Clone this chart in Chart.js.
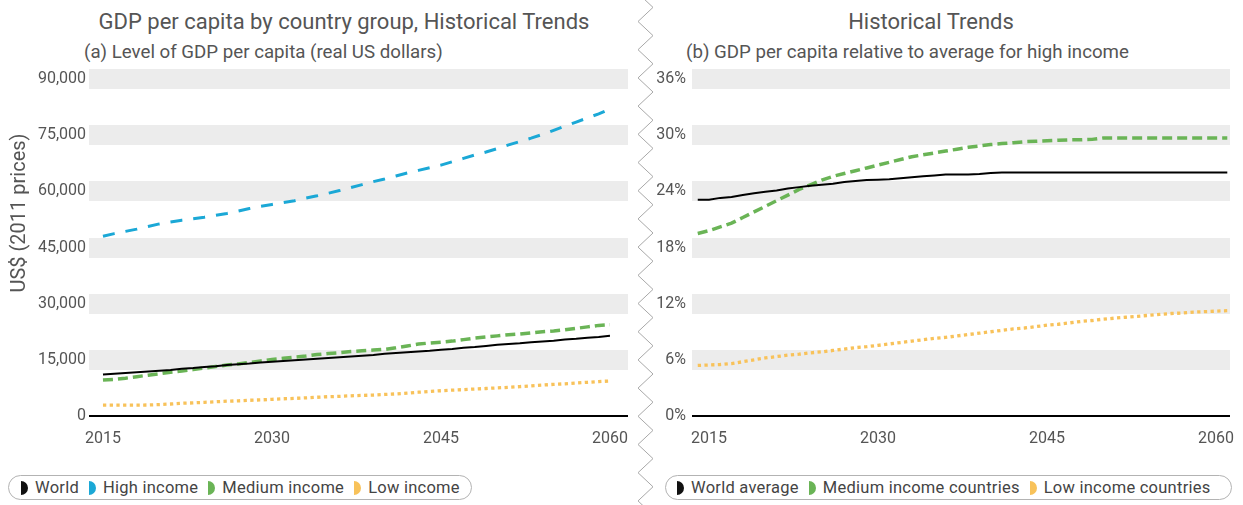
<!DOCTYPE html>
<html>
<head>
<meta charset="utf-8">
<script src="https://cdn.jsdelivr.net/npm/chart.js@4"></script>
<style>
  body { margin: 0; background: #fff; font-family: Roboto, sans-serif; color: #555; }
  #page { position: relative; width: 1243px; height: 505px; overflow: hidden; }
  .box { position: absolute; }
  .title { position: absolute; font-size: 22px; line-height: 24px; color: #555; white-space: nowrap; }
  .sub { position: absolute; font-size: 18.7px; line-height: 20px; color: #555; white-space: nowrap; }
  .ytitle { position: absolute; font-size: 20px; line-height: 22px; color: #555; white-space: nowrap;
            transform: translate(-50%, -50%) rotate(-90deg); }
  .legend { position: absolute; height: 25px; border: 1px solid #b3b3b3; border-radius: 14px; white-space: nowrap;
            display: flex; align-items: center; box-sizing: border-box; font-size: 16.5px; color: #444; }
  .legend span.key { flex: none; display: inline-block; width: 7px; height: 14px; border-radius: 0 7px 7px 0; margin: 0 7px 0 0; }
  .legend span.lab { flex: none; margin-right: 10px; letter-spacing: 0.25px; }
  svg.zig { position: absolute; left: 0; top: 0; }
</style>
</head>
<body>
<div id="page">
  <div class="title" style="left:0;width:688px;text-align:center;top:10px;">GDP per capita by country group, Historical Trends</div>
  <div class="sub" style="left:84px;top:42px;">(a) Level of GDP per capita (real US dollars)</div>
  <div class="title" style="left:640px;width:582px;text-align:center;top:10px;">Historical Trends</div>
  <div class="sub" style="left:686px;top:42px;">(b) GDP per capita relative to average for high income</div>

  <div class="box" style="left:0;top:0;width:640px;height:460px;"><canvas id="levelChart"></canvas></div>
  <div class="box" style="left:640px;top:0;width:603px;height:460px;"><canvas id="relativeChart"></canvas></div>
  <div class="ytitle" style="left:18px;top:213px;">US$ (2011 prices)</div>

  <div class="legend" style="left:8px;top:475px;width:464px;padding-left:12px;">
    <span class="key" style="background:#111"></span><span class="lab">World</span>
    <span class="key" style="background:#1ba8d6"></span><span class="lab">High income</span>
    <span class="key" style="background:#6ab456"></span><span class="lab">Medium income</span>
    <span class="key" style="background:#f8c25a"></span><span class="lab">Low income</span>
  </div>
  <div class="legend" style="left:665px;top:475px;width:567px;padding-left:11px;">
    <span class="key" style="background:#111"></span><span class="lab">World average</span>
    <span class="key" style="background:#6ab456"></span><span class="lab">Medium income countries</span>
    <span class="key" style="background:#f8c25a"></span><span class="lab">Low income countries</span>
  </div>

  <svg class="zig" width="1243" height="505"><polyline id="zigLine" fill="none" stroke="#a8a8a8" stroke-width="1"/></svg>
</div>

<script>
// years shown in panel (a) and panel (b)
const yearsLevel = [
  2015, 2016, 2017, 2018, 2019, 2020, 2021, 2022, 2023, 2024,
  2025, 2026, 2027, 2028, 2029, 2030, 2031, 2032, 2033, 2034,
  2035, 2036, 2037, 2038, 2039, 2040, 2041, 2042, 2043, 2044,
  2045, 2046, 2047, 2048, 2049, 2050, 2051, 2052, 2053, 2054,
  2055, 2056, 2057, 2058, 2059, 2060
];
const yearsRelative = [
  2014, 2015, 2016, 2017, 2018, 2019, 2020, 2021, 2022, 2023,
  2024, 2025, 2026, 2027, 2028, 2029, 2030, 2031, 2032, 2033,
  2034, 2035, 2036, 2037, 2038, 2039, 2040, 2041, 2042, 2043,
  2044, 2045, 2046, 2047, 2048, 2049, 2050, 2051, 2052, 2053,
  2054, 2055, 2056, 2057, 2058, 2059, 2060, 2061
];
const xTickYears = [2015, 2030, 2045, 2060];

// (a) GDP per capita, US$ 2011 prices
const worldLevel = [
  11100, 11300, 11500, 11700, 11900, 12100, 12300, 12600, 12800, 13100,
  13300, 13600, 13800, 14000, 14300, 14500, 14700, 14900, 15100, 15300,
  15500, 15700, 15900, 16100, 16300, 16600, 16800, 17000, 17200, 17400,
  17700, 17900, 18200, 18400, 18700, 19000, 19200, 19400, 19700, 19900,
  20100, 20400, 20600, 20900, 21100, 21400
];
const highLevel = [
  48000, 48700, 49300, 49900, 50600, 51300, 51800, 52300, 52700, 53100,
  53600, 54100, 54700, 55400, 56000, 56500, 57000, 57500, 58200, 58800,
  59500, 60200, 61000, 61800, 62600, 63300, 64100, 64900, 65600, 66300,
  67000, 67900, 68800, 69700, 70500, 71400, 72400, 73300, 74200, 75200,
  76300, 77400, 78500, 79600, 80700, 82000
];
const mediumLevel = [
  9600, 9800, 10100, 10500, 10900, 11300, 11700, 12000, 12400, 12800,
  13200, 13600, 13900, 14300, 14700, 15100, 15400, 15700, 16000, 16400,
  16700, 16900, 17200, 17400, 17600, 17800, 18200, 18700, 19200, 19500,
  19700, 20000, 20400, 20800, 21100, 21400, 21700, 21900, 22200, 22500,
  22700, 23000, 23400, 23800, 24200, 24400
];
const lowLevel = [
  2900, 2900, 2900, 2900, 2950, 3050, 3200, 3400, 3500, 3650,
  3800, 3950, 4050, 4200, 4300, 4450, 4600, 4700, 4850, 5000,
  5150, 5250, 5400, 5500, 5600, 5750, 5900, 6100, 6350, 6550,
  6750, 6900, 7050, 7200, 7350, 7500, 7650, 7850, 8050, 8250,
  8450, 8600, 8800, 9000, 9200, 9350
];
const levelTicks = [0, 15000, 30000, 45000, 60000, 75000, 90000];

// (b) % of high income average
const worldRelative = [
  23.1, 23.1, 23.3, 23.4, 23.6, 23.8, 23.95, 24.1, 24.3, 24.45,
  24.6, 24.7, 24.8, 25.0, 25.1, 25.2, 25.25, 25.3, 25.4, 25.5,
  25.6, 25.7, 25.8, 25.8, 25.8, 25.85, 25.95, 26, 26, 26,
  26, 26, 26, 26, 26, 26, 26, 26, 26, 26,
  26, 26, 26, 26, 26, 26, 26, 26
];
const mediumRelative = [
  19.5, 19.8, 20.2, 20.6, 21.2, 21.8, 22.4, 23.0, 23.6, 24.2,
  24.7, 25.2, 25.6, 25.9, 26.2, 26.5, 26.8, 27.1, 27.4, 27.7,
  27.9, 28.1, 28.3, 28.5, 28.7, 28.85, 29.0, 29.1, 29.2, 29.3,
  29.35, 29.4, 29.45, 29.5, 29.5, 29.55, 29.7, 29.7, 29.7, 29.7,
  29.7, 29.7, 29.7, 29.7, 29.7, 29.7, 29.7, 29.7
];
const lowRelative = [
  5.4, 5.45, 5.5, 5.6, 5.8, 6.0, 6.2, 6.35, 6.5, 6.6,
  6.75, 6.85, 7.0, 7.15, 7.3, 7.4, 7.55, 7.7, 7.85, 8.0,
  8.15, 8.3, 8.4, 8.55, 8.7, 8.85, 9.0, 9.15, 9.3, 9.4,
  9.55, 9.7, 9.8, 9.95, 10.1, 10.2, 10.35, 10.45, 10.55, 10.65,
  10.75, 10.85, 10.95, 11.0, 11.1, 11.15, 11.2, 11.25
];
const relativeTicks = [0, 6, 12, 18, 24, 30, 36];

const BLACK = '#000000';
const BLUE = '#1ba8d6';
const GREEN = '#6ab456';
const YELLOW = '#f8c25a';
const BAND = '#ececec';
const TEXT = '#555555';

Chart.defaults.font.family = 'Roboto';
Chart.defaults.color = TEXT;

function pairs(years, values) {
  return values.map((v, i) => ({ x: years[i], y: v }));
}

function line(label, years, values, color, dash, width) {
  return {
    label: label,
    data: pairs(years, values),
    borderColor: color,
    backgroundColor: color,
    borderWidth: width,
    borderDash: dash,
    pointRadius: 0,
    tension: 0,
    fill: false
  };
}

// wide grey bands behind each y tick, a black baseline at zero
function yScale(tickValues, fmt, axisWidth, labelPad) {
  return {
    min: tickValues[0],
    max: tickValues[tickValues.length - 1],
    afterBuildTicks: function (scale) {
      scale.ticks = tickValues.map(v => ({ value: v }));
    },
    afterFit: function (scale) {
      scale.width = axisWidth;
    },
    border: { display: false },
    grid: {
      drawTicks: false,
      color: c => (c.tick && c.tick.value === 0 ? BLACK : BAND),
      lineWidth: c => (c.tick && c.tick.value === 0 ? 2 : 20)
    },
    ticks: {
      padding: labelPad,
      color: TEXT,
      font: { size: 16 },
      callback: fmt
    }
  };
}

function xScale(min, max) {
  return {
    type: 'linear',
    min: min,
    max: max,
    afterBuildTicks: function (scale) {
      scale.ticks = xTickYears.map(v => ({ value: v }));
    },
    afterFit: function (scale) {
      scale.height = 44;
    },
    border: { display: false },
    grid: { display: false },
    ticks: {
      padding: 5,
      color: TEXT,
      font: { size: 16 },
      maxRotation: 0,
      callback: v => String(v)
    }
  };
}

const baseOptions = {
  responsive: true,
  maintainAspectRatio: false,
  animation: false,
  plugins: { legend: { display: false }, tooltip: { enabled: false } }
};

new Chart(document.getElementById('levelChart'), {
  type: 'line',
  data: {
    datasets: [
      line('World', yearsLevel, worldLevel, BLACK, [], 2),
      line('High income', yearsLevel, highLevel, BLUE, [12, 11], 3),
      line('Medium income', yearsLevel, mediumLevel, GREEN, [10, 5], 3.5),
      line('Low income', yearsLevel, lowLevel, YELLOW, [3.3, 3.4], 3.3)
    ]
  },
  options: Object.assign({}, baseOptions, {
    layout: { padding: { top: 79, right: 12, left: 0, bottom: 0 } },
    scales: {
      x: xScale(2013.76, 2061.6),
      y: yScale(levelTicks, v => v.toLocaleString('en-US'), 89, 3)
    }
  })
});

new Chart(document.getElementById('relativeChart'), {
  type: 'line',
  data: {
    datasets: [
      line('World average', yearsRelative, worldRelative, BLACK, [], 2),
      line('Medium income countries', yearsRelative, mediumRelative, GREEN, [10, 5], 3.5),
      line('Low income countries', yearsRelative, lowRelative, YELLOW, [3.3, 3.4], 3.3)
    ]
  },
  options: Object.assign({}, baseOptions, {
    layout: { padding: { top: 79, right: 13, left: 0, bottom: 0 } },
    scales: {
      x: xScale(2013.49, 2061.24),
      y: yScale(relativeTicks, v => v + '%', 52, 6)
    }
  })
});

// torn-edge divider between the two panels
const zig = [];
for (let y = -6.7, k = 0; y <= 520; y += 14.1, k++) {
  zig.push((k % 2 === 0 ? 638 : 653) + ',' + y.toFixed(1));
}
document.getElementById('zigLine').setAttribute('points', zig.join(' '));
</script>
</body>
</html>
